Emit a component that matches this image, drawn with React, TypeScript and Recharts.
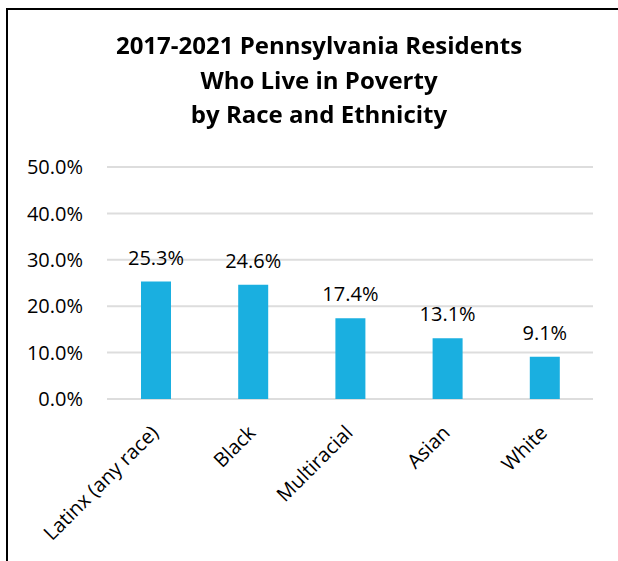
import React from "react";
import { BarChart, Bar, XAxis, YAxis, CartesianGrid, LabelList } from "recharts";

const categories = ["Latinx (any race)", "Black", "Multiracial", "Asian", "White"];
const povertyRates = [25.3, 24.6, 17.4, 13.1, 9.1];
const yTicks = [0, 10, 20, 30, 40, 50];
const titleLines = ["2017-2021 Pennsylvania Residents", "Who Live in Poverty", "by Race and Ethnicity"];

const data = categories.map((c, i) => ({ name: c, value: povertyRates[i] }));

const FONT = "'Open Sans', sans-serif";

const XTick = (props: any) => {
  const { x, y, payload } = props;
  const ax = x + 4;
  const ay = y + 27;
  return (
    <text
      x={ax}
      y={ay}
      textAnchor="end"
      fontSize={20}
      fontFamily={FONT}
      fill="#000"
      transform={`rotate(-45, ${ax}, ${ay})`}
    >
      {payload.value}
    </text>
  );
};

export default function App() {
  return (
    <div style={{ position: "relative", width: 610, height: 551, marginTop: 2, background: "#fff" }}>
      <BarChart
        width={610}
        height={551}
        data={data}
        margin={{ top: 157, right: 25, bottom: 2, left: 0 }}
        barSize={30}
      >
        <CartesianGrid vertical={false} stroke="#DDDDDD" strokeWidth={2} />
        <XAxis
          dataKey="name"
          axisLine={false}
          tickLine={false}
          height={160}
          interval={0}
          tick={<XTick />}
        />
        <YAxis
          width={99}
          domain={[0, 50]}
          ticks={yTicks}
          axisLine={false}
          tickLine={false}
          tickSize={0}
          tickMargin={24}
          tickFormatter={(v: number) => `${v.toFixed(1)}%`}
          tick={{ fontSize: 20, fontFamily: FONT, fill: "#000" }}
        />
        <Bar dataKey="value" fill="#1AAFE0" isAnimationActive={false}>
          <LabelList
            dataKey="value"
            position="top"
            offset={17}
            formatter={(v: any) => `${Number(v).toFixed(1)}%`}
            style={{ fontSize: 20, fontFamily: FONT, fill: "#000" }}
          />
        </Bar>
      </BarChart>
      <svg
        width={618}
        height={561}
        style={{ position: "fixed", left: 0, top: 0, pointerEvents: "none" }}
      >
        <line x1={7} y1={9} x2={618} y2={9} stroke="#000" strokeWidth={2} />
        <line x1={7} y1={8} x2={7} y2={561} stroke="#000" strokeWidth={2} />
        {titleLines.map((t, i) => (
          <text
            key={t}
            x={319}
            y={54 + i * 34.5}
            textAnchor="middle"
            fontSize={24}
            fontWeight="bold"
            fontFamily={FONT}
            fill="#000"
          >
            {t}
          </text>
        ))}
      </svg>
    </div>
  );
}
